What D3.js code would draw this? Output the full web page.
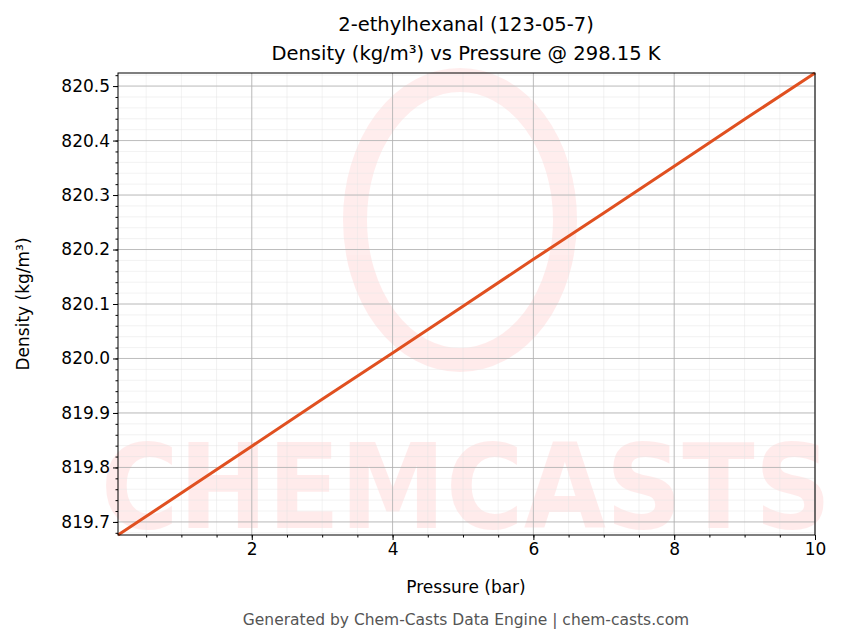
<!DOCTYPE html><html><head><meta charset="utf-8"><script src="https://cdn.jsdelivr.net/npm/d3@7"></script>
<style>body{margin:0;background:#fff;font-family:"DejaVu Sans",sans-serif}</style></head><body><svg id="c" width="843" height="644"></svg><script>
const pressures=[0.1,1,2,3,4,5,6,7,8,9,10];
const densities=[819.676,819.753,819.839,819.925,820.010,820.096,820.182,820.267,820.353,820.439,820.524];
const xTicks=[2,4,6,8,10];
const yTicks=[819.7,819.8,819.9,820.0,820.1,820.2,820.3,820.4,820.5];
const svg=d3.select("#c");
const L=118,R=815,T=73,B=535;
const x=d3.scaleLinear().domain([0.1,10]).range([L,R]);
const y=d3.scaleLinear().domain([819.676,820.524]).range([B,T]);
const wm=svg.append("g").attr("opacity",0.09);
wm.append("ellipse").attr("cx",460).attr("cy",220).attr("rx",105).attr("ry",140).attr("fill","none").attr("stroke","#f33").attr("stroke-width",24);
wm.append("text").attr("x",466).attr("y",528).attr("text-anchor","middle").attr("font-size",118).attr("font-weight","bold").attr("font-family","DejaVu Sans Condensed").attr("fill","#f33").text("CHEMCASTS");
const g=svg.append("g");
const xm=d3.range(0.5,10.01,0.5), ym=d3.range(819.68,820.521,0.02);
g.selectAll(".xm").data(xm).join("line").attr("x1",d=>x(d)).attr("x2",d=>x(d)).attr("y1",T).attr("y2",B).attr("stroke","#e4e4e4").attr("stroke-width",0.5);
g.selectAll(".ym").data(ym).join("line").attr("y1",d=>y(d)).attr("y2",d=>y(d)).attr("x1",L).attr("x2",R).attr("stroke","#e4e4e4").attr("stroke-width",0.5);
g.selectAll(".xg").data(xTicks).join("line").attr("x1",d=>x(d)).attr("x2",d=>x(d)).attr("y1",T).attr("y2",B).attr("stroke","#b0b0b0").attr("stroke-width",0.8);
g.selectAll(".yg").data(yTicks).join("line").attr("y1",d=>y(d)).attr("y2",d=>y(d)).attr("x1",L).attr("x2",R).attr("stroke","#b0b0b0").attr("stroke-width",0.8);
svg.append("path").datum(pressures.map((p,i)=>[p,densities[i]])).attr("d",d3.line().x(d=>x(d[0])).y(d=>y(d[1]))).attr("fill","none").attr("stroke","#e05020").attr("stroke-width",3);
svg.append("rect").attr("x",L).attr("y",T).attr("width",R-L).attr("height",B-T).attr("fill","none").attr("stroke","#000");
svg.append("g").attr("transform",`translate(0,${B})`).call(d3.axisBottom(x).tickValues(xTicks).tickSize(5).tickFormat(d3.format("d")));
const m1=svg.append("g").attr("transform",`translate(0,${B})`).call(d3.axisBottom(x).tickValues(xm).tickSize(2.5).tickFormat(""));
svg.append("g").attr("transform",`translate(${L},0)`).call(d3.axisLeft(y).tickValues(yTicks).tickSize(5).tickFormat(d3.format(".1f")));
const m2=svg.append("g").attr("transform",`translate(${L},0)`).call(d3.axisLeft(y).tickValues(ym).tickSize(2.5).tickFormat(""));
m1.selectAll("text").remove();m2.selectAll("text").remove();
svg.selectAll(".tick text").attr("font-size",17).attr("font-family","DejaVu Sans").attr("fill","#000");
svg.selectAll(".domain").remove();
const t=(xx,yy,s,sz,o={})=>{const e=svg.append("text").attr("x",xx).attr("y",yy).attr("text-anchor","middle").attr("font-size",sz).attr("fill",o.fill||"#000").text(s);if(o.rot)e.attr("transform",`rotate(-90,${xx},${yy})`);return e;};
t(466,31,"2-ethylhexanal (123-05-7)",19.5);
t(466,60,"Density (kg/m³) vs Pressure @ 298.15 K",19.5);
t(466,593,"Pressure (bar)",17);
t(29,304,"Density (kg/m³)",17,{rot:true});
t(466,625,"Generated by Chem-Casts Data Engine | chem-casts.com",15.5,{fill:"#555"});
</script></body></html>
